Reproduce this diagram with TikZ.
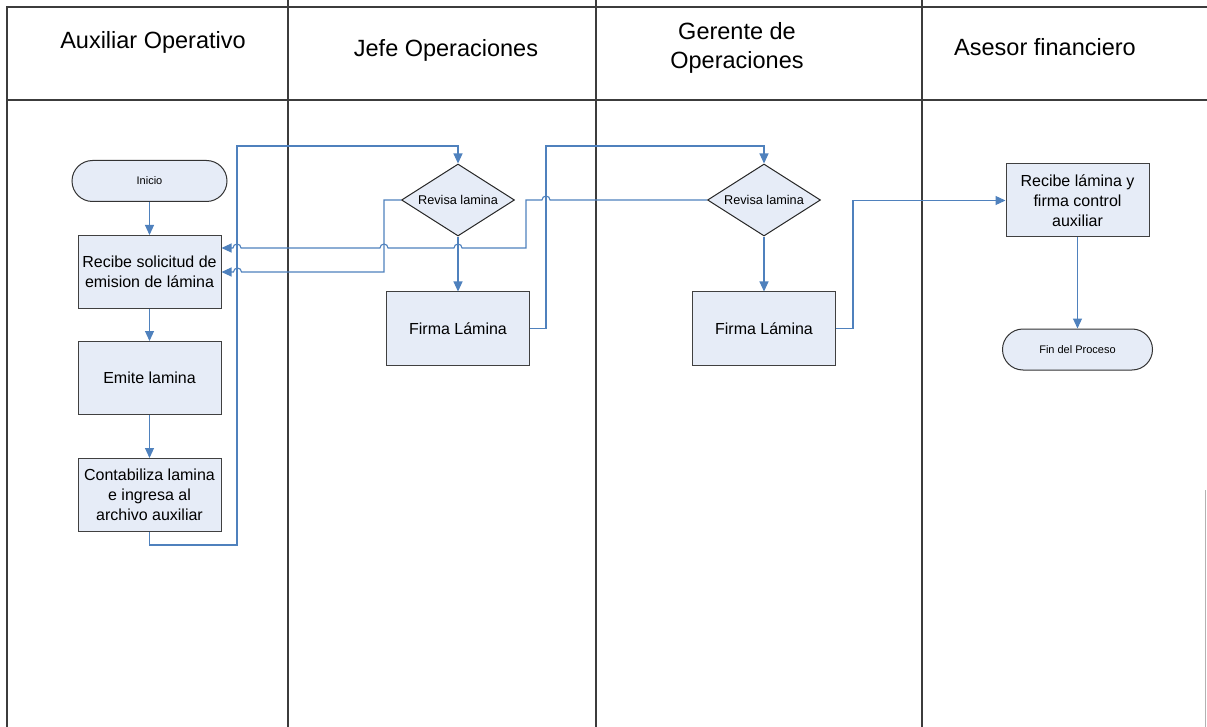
\documentclass[tikz,border=0pt]{standalone}
\usepackage{fontspec}
\setmainfont{Liberation Sans}
\usetikzlibrary{positioning,shapes.geometric,arrows.meta}
\definecolor{flowblue}{RGB}{79,129,189}
\definecolor{boxfill}{RGB}{230,236,247}
\definecolor{laneline}{RGB}{60,60,60}
\tikzset{
  lane/.style={draw=laneline, line width=1.5pt},
  lanehead/.style={font=\fontsize{23.5}{29}\selectfont, align=center},
  proc/.style={draw=black!75, fill=boxfill, line width=1pt, minimum width=143pt, minimum height=73pt, align=center, inner sep=2pt, font=\fontsize{16}{20}\selectfont},
  term/.style={draw=black!80, fill=boxfill, line width=1pt, rounded corners=20.5pt, minimum height=41pt, font=\fontsize{11}{13}\selectfont},
  decide/.style={diamond, aspect=1.6, draw=black!85, fill=boxfill, line width=1pt, minimum width=113pt, minimum height=72pt, inner sep=0pt, font=\fontsize{12.7}{15}\selectfont},
  flow/.style={draw=flowblue, line width=1.1pt},
  arr/.style={flow, -{Triangle[length=10pt,width=9pt]}},
}
\begin{document}
\begin{tikzpicture}[x=1pt, y=-1pt]
    \useasboundingbox (0,0) rectangle (1207,727);

    % swimlanes
    \draw[lane] (7,727) -- (7,7) -- (1207,7);
    \draw[lane] (7,100) -- (1207,100);
    \foreach \x in {288,596,922}
        \draw[lane] (\x,0) -- (\x,727);
    \draw[black!30, line width=1pt] (1205,490) -- (1205,727);

    \node[lanehead] (hAux) at (153,42) {Auxiliar Operativo};
    \node[lanehead] (hJefe) at (446,50) {Jefe Operaciones};
    \node[lanehead] (hGer) at (737,48) {Gerente de\\Operaciones};
    \node[lanehead] (hAse) at (1045,47) {Asesor financiero};

    % auxiliar operativo
    \node[term, minimum width=155pt] (inicio) at (149.5,181) {Inicio};
    \node[proc, below=33pt of inicio] (recibe) {Recibe solicitud de\\emision de lámina};
    \node[proc, below=32pt of recibe] (emite) {Emite lamina};
    \node[proc, below=43pt of emite] (conta) {Contabiliza lamina\\e ingresa al\\archivo auxiliar};

    % jefe y gerente
    \node[decide] (rev1) at (458,200) {Revisa lamina};
    \node[proc, below=55pt of rev1] (firma1) {Firma Lámina};
    \node[decide] (rev2) at (764,200) {Revisa lamina};
    \node[proc, below=55pt of rev2] (firma2) {Firma Lámina};

    % asesor
    \node[proc] (lam) at (1077.5,200.5) {Recibe lámina y\\firma control\\auxiliar};
    \node[term, minimum width=150pt, below=91pt of lam] (fin) {Fin del Proceso};

    % flujo
    \draw[arr] (inicio) -- (recibe);
    \draw[arr] (recibe) -- (emite);
    \draw[arr] (emite) -- (conta);
    \draw[arr] (conta.south) |- (237,545) -- (237,146) -| (rev1.north);
    \draw[arr] (rev1) -- (firma1);
    \draw[arr] (rev1.west) -- (384,200) |- ([xshift=20pt]recibe.east)
        arc[start angle=0, end angle=180, radius=4pt] -- (recibe.east);
    \draw[arr] (firma1.east) -| (546,146) -| (rev2.north);
    \draw[arr] (rev2.west) -- (550,200) arc[start angle=0, end angle=180, radius=4pt]
        -- (526,200) |- (462,248) arc[start angle=0, end angle=180, radius=4pt]
        -- (388,248) arc[start angle=0, end angle=180, radius=4pt]
        -- (241,248) arc[start angle=0, end angle=180, radius=4pt]
        -- (recibe.east |- 0,248);
    \draw[arr] (rev2) -- (firma2);
    \draw[arr] (firma2.east) -- ++(17,0) |- (lam.west);
    \draw[arr] (lam) -- (fin);
\end{tikzpicture}
\end{document}
